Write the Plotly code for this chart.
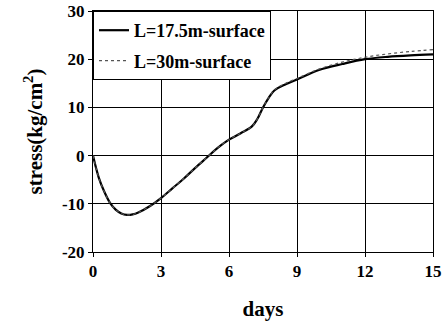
import plotly.graph_objects as go

days = [0, 0.25, 0.5, 0.75, 1.0, 1.25, 1.5, 1.75, 2.0, 2.5, 3.0, 3.5, 4.0, 4.5, 5.0, 5.5, 6.0, 6.5, 7.0, 7.25, 7.5, 7.75, 8.0, 8.5, 9.0, 10, 11, 12, 13, 14, 15]
stress_17_5 = [0, -4.5, -7.5, -9.8, -11.2, -12.0, -12.3, -12.2, -11.8, -10.5, -8.8, -6.8, -4.8, -2.6, -0.5, 1.6, 3.3, 4.6, 6.0, 7.6, 10.0, 12.0, 13.5, 14.8, 15.8, 17.8, 19.0, 20.0, 20.5, 20.8, 21.0]
stress_30 = [0, -4.5, -7.5, -9.8, -11.2, -12.0, -12.3, -12.2, -11.8, -10.5, -8.8, -6.8, -4.8, -2.6, -0.5, 1.6, 3.3, 4.6, 6.0, 7.6, 10.0, 12.0, 13.6, 15.0, 16.0, 18.0, 19.4, 20.4, 21.1, 21.6, 22.0]

x_ticks = [0, 3, 6, 9, 12, 15]
y_ticks = [-20, -10, 0, 10, 20, 30]

font_family = "Liberation Serif"

fig = go.Figure()
fig.add_trace(go.Scatter(x=days, y=stress_17_5, mode="lines", name="L=17.5m-surface",
                         line=dict(color="black", width=2.2, shape="spline"), legendgroup="a"))
fig.add_trace(go.Scatter(x=days, y=stress_30, mode="lines", name="L=30m-surface",
                         line=dict(color="#555555", width=1.2, dash="dot", shape="spline"), legendgroup="b"))

fig.update_layout(
    width=445, height=323,
    margin=dict(l=93, r=12, t=11, b=71),
    paper_bgcolor="white", plot_bgcolor="white",
    font=dict(family=font_family, color="black", size=17, weight="bold"),
    showlegend=True,
    legend=dict(x=0, y=1, xanchor="left", yanchor="top", bgcolor="white",
                bordercolor="black", borderwidth=1, tracegroupgap=4,
                font=dict(family=font_family, size=18, weight="bold")),
    xaxis=dict(range=[0, 15], tickvals=x_ticks, ticktext=[str(v) for v in x_ticks],
               showgrid=True, gridcolor="black", gridwidth=1.4,
               showline=True, linecolor="black", linewidth=1, mirror=True,
               ticks="outside", ticklen=4, tickcolor="black",
               zeroline=False, automargin=False,
               title=dict(text="days", font=dict(size=21, family=font_family, weight="bold"), standoff=20)),
    yaxis=dict(range=[-20, 30], tickvals=y_ticks, ticktext=[str(v) for v in y_ticks],
               showgrid=True, gridcolor="black", gridwidth=1.4,
               showline=True, linecolor="black", linewidth=1, mirror=True,
               ticks="outside", ticklen=4, tickcolor="black",
               zeroline=False, automargin=False,
               title=dict(text="stress(kg/cm<sup>2</sup>)", font=dict(size=21, family=font_family, weight="bold"), standoff=13)),
)

fig.write_html("out.html")
